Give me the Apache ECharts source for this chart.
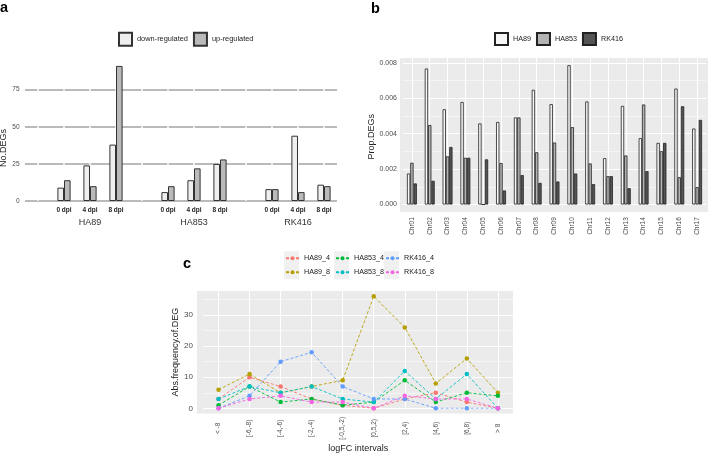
<!DOCTYPE html>
<html>
<head>
<meta charset="utf-8">
<script src="https://cdn.jsdelivr.net/npm/echarts@6/dist/echarts.min.js"></script>
<style>
  html, body { margin: 0; padding: 0; background: #fff; }
  #chart { width: 708px; height: 454px; }
</style>
</head>
<body>
<div id="chart"></div>
<script>
// panel a: number of DEGs
const strains = ['HA89', 'HA853', 'RK416'];
const dpiSlots = ['', '0 dpi', '4 dpi', '8 dpi'];
const downRegulated = [9, 24, 38, 6, 14, 25, 8, 44, 11];
const upRegulated = [14, 10, 91, 10, 22, 28, 8, 6, 10];
const ticksA = [0, 25, 50, 75];

// panel b: proportion of DEGs per chromosome
const chromosomes = ['Chr01', 'Chr02', 'Chr03', 'Chr04', 'Chr05', 'Chr06', 'Chr07', 'Chr08', 'Chr09',
    'Chr10', 'Chr11', 'Chr12', 'Chr13', 'Chr14', 'Chr15', 'Chr16', 'Chr17'];
const propHA89 = [0.00175, 0.00768, 0.00538, 0.00579, 0.00458, 0.00466, 0.00492, 0.00648, 0.00567,
    0.00787, 0.00582, 0.00262, 0.00557, 0.00375, 0.00348, 0.00655, 0.00429];
const propHA853 = [0.00236, 0.00449, 0.00272, 0.00264, 0, 0.00234, 0.00492, 0.00295, 0.0035,
    0.00437, 0.00232, 0.0016, 0.00277, 0.00565, 0.00301, 0.00154, 0.00098];
const propRK416 = [0.00119, 0.00134, 0.00325, 0.00264, 0.00255, 0.00079, 0.00166, 0.00122, 0.0013,
    0.00175, 0.00115, 0.0016, 0.00092, 0.00188, 0.00348, 0.00555, 0.00478];

// panel c: logFC interval frequencies
const logfcIntervals = ['< -8', '[-6,-8)', '[-4,-6)', '[-2,-4)', '[-0,5,-2)', '[0,5,2)', '[2,4)', '[4,6)', '[6,8)', '> 8'];
const HA89_4 = [3, 10, 7, 3, 1, 0, 3, 5, 2, 0];
const HA89_8 = [6, 11, 5, 7, 9, 36, 26, 8, 16, 5];
const HA853_4 = [1, 7, 2, 3, 1, 2, 9, 2, 5, 4];
const HA853_8 = [3, 7, 5, 7, 3, 2, 12, 3, 11, 0];
const RK416_4 = [0, 4, 15, 18, 7, 3, 3, 0, 0, 0];
const RK416_8 = [0, 3, 4, 2, 2, 0, 4, 3, 3, 0];

const lineSeries = [
    {name: 'HA89_4', data: HA89_4, color: '#F8766D'},
    {name: 'HA89_8', data: HA89_8, color: '#B79F00'},
    {name: 'HA853_4', data: HA853_4, color: '#00BA38'},
    {name: 'HA853_8', data: HA853_8, color: '#00BFC4'},
    {name: 'RK416_4', data: RK416_4, color: '#619CFF'},
    {name: 'RK416_8', data: RK416_8, color: '#F564E3'}
];

const categoriesA = strains.flatMap(s => dpiSlots.map(d => s + '|' + d));
function withEmptySlots(values) {
    const out = [];
    strains.forEach((s, i) => {
        out.push('-');
        out.push(...values.slice(i * 3, i * 3 + 3));
    });
    return out;
}

const chart = echarts.init(document.getElementById('chart'));

const tickText = {fontSize: 7, color: '#4d4d4d'};
const nameText = {fontSize: 9, color: '#222'};
const noLine = {show: false};

// helper axes draw the vertical gridlines at category centres
function centreLines(gridIndex, count, color, width, z) {
    return {
        type: 'value', gridIndex: gridIndex, min: 0, max: count * 2, interval: 1,
        axisLine: noLine, axisTick: noLine, axisLabel: noLine, silent: true, z: z,
        splitLine: {show: true, lineStyle: {color: ['rgba(0,0,0,0)', color], width: width}}
    };
}

const legendKeys = [];
for (let col = 0; col < 3; col++) {
    for (let row = 0; row < 2; row++) {
        legendKeys.push({
            type: 'rect', z: -10, silent: true,
            shape: {x: 284 + col * 50, y: 251.3 + row * 14, width: 15, height: 14},
            style: {fill: '#f0f0f0'}
        });
    }
}

const option = {
    animation: false,
    textStyle: {fontFamily: 'Liberation Sans, Arial, sans-serif'},
    graphic: [
        {type: 'rect', z: -10, silent: true, shape: {x: 400, y: 58, width: 308, height: 154}, style: {fill: '#ebebeb'}},
        {type: 'rect', z: -10, silent: true, shape: {x: 197, y: 291, width: 316, height: 122.5}, style: {fill: '#ebebeb'}},
        ...legendKeys,
        {type: 'text', left: 0, top: 0, style: {text: 'a', font: 'bold 14.5px Liberation Sans', fill: '#000'}},
        {type: 'text', left: 371, top: 1, style: {text: 'b', font: 'bold 14.5px Liberation Sans', fill: '#000'}},
        {type: 'text', left: 183, top: 256, style: {text: 'c', font: 'bold 14.5px Liberation Sans', fill: '#000'}}
    ],
    legend: [
        {data: ['down-regulated', 'up-regulated'], left: 118, top: 31.7, padding: 0, icon: 'rect',
            itemWidth: 13, itemHeight: 13, itemGap: 5, textStyle: {fontSize: 7.4, color: '#222'}},
        {data: ['HA89', 'HA853', 'RK416'], left: 494, top: 32, padding: 0, icon: 'rect',
            itemWidth: 13, itemHeight: 12, itemGap: 5, textStyle: {fontSize: 7.2, color: '#222'}},
        {data: ['HA89_4', 'HA89_8'], left: 285, top: 251.3, orient: 'vertical', padding: 0,
            itemWidth: 13, itemHeight: 5, itemGap: 0, textStyle: {fontSize: 7.2, lineHeight: 14, color: '#222'}},
        {data: ['HA853_4', 'HA853_8'], left: 335, top: 251.3, orient: 'vertical', padding: 0,
            itemWidth: 13, itemHeight: 5, itemGap: 0, textStyle: {fontSize: 7.2, lineHeight: 14, color: '#222'}},
        {data: ['RK416_4', 'RK416_8'], left: 385, top: 251.3, orient: 'vertical', padding: 0,
            itemWidth: 13, itemHeight: 5, itemGap: 0, textStyle: {fontSize: 7.2, lineHeight: 14, color: '#222'}}
    ],
    grid: [
        {left: 25, top: 60, width: 312, height: 141, outerBoundsMode: 'none'},
        {left: 403, top: 45.2, width: 303, height: 159.3, outerBoundsMode: 'none'},
        {left: 203, top: 283.9, width: 310.4, height: 124.4, outerBoundsMode: 'none'}
    ],
    xAxis: [
        {
            type: 'category', gridIndex: 0, data: categoriesA,
            axisLine: noLine, axisTick: noLine,
            axisLabel: {
                interval: 0, margin: 5, fontSize: 6.5, fontWeight: 'bold', color: '#222', lineHeight: 8,
                formatter: v => {
                    const [s, d] = v.split('|');
                    return d === '4 dpi' ? d + '\n{strain|' + s + '}' : d;
                },
                rich: {strain: {fontSize: 9, fontWeight: 'normal', color: '#333', lineHeight: 17}}
            }
        },
        centreLines(0, categoriesA.length, '#ffffff', 1.5, 1),
        {
            type: 'category', gridIndex: 1, data: chromosomes,
            axisLine: noLine, axisTick: noLine,
            axisLabel: {interval: 0, rotate: 90, align: 'center', verticalAlign: 'middle', margin: 21.5,
                fontSize: 6.5, color: '#4d4d4d'}
        },
        centreLines(1, chromosomes.length, '#ffffff', 1, 0),
        {
            type: 'category', gridIndex: 2, data: logfcIntervals,
            axisLine: noLine, axisTick: noLine,
            axisLabel: {interval: 0, rotate: 90, align: 'center', verticalAlign: 'middle', margin: 20,
                fontSize: 6.5, color: '#4d4d4d'},
            name: 'logFC intervals', nameLocation: 'middle', nameGap: 34, nameTextStyle: nameText
        },
        centreLines(2, logfcIntervals.length, '#ffffff', 1, 0)
    ],
    yAxis: [
        {
            type: 'value', gridIndex: 0, min: 0, max: 95, interval: 25,
            axisLine: noLine, axisTick: noLine,
            axisLabel: {margin: 5.5, fontSize: 6.5, color: '#4d4d4d', showMaxLabel: false},
            splitLine: {show: true, lineStyle: {color: ticksA.map(() => '#a3a3a3').concat(['rgba(0,0,0,0)']), width: 1.5}},
            name: 'No.DEGs', nameLocation: 'middle', nameRotate: 90, nameGap: 16,
            nameTextStyle: Object.assign({padding: [0, 35, 0, 0]}, nameText)
        },
        {
            type: 'value', gridIndex: 1, min: 0, max: 0.009, interval: 0.002,
            axisLine: noLine, axisTick: noLine,
            axisLabel: Object.assign({margin: 6, showMaxLabel: false, formatter: v => v.toFixed(3)}, tickText),
            splitLine: {show: true, lineStyle: {color: '#ffffff', width: 1}},
            minorTick: {show: false, splitNumber: 2},
            minorSplitLine: {show: true, lineStyle: {color: '#ffffff', width: 0.5}},
            name: 'Prop.DEGs', nameLocation: 'middle', nameRotate: 90, nameGap: 26,
            nameTextStyle: Object.assign({padding: [0, 24, 0, 0]}, nameText)
        },
        {
            type: 'value', gridIndex: 2, min: 0, max: 40, interval: 10,
            axisLine: noLine, axisTick: noLine,
            axisLabel: {margin: 10, fontSize: 8, color: '#4d4d4d', showMaxLabel: false},
            splitLine: {show: true, lineStyle: {color: '#ffffff', width: 1}},
            minorTick: {show: false, splitNumber: 2},
            minorSplitLine: {show: true, lineStyle: {color: '#ffffff', width: 0.5}},
            name: 'Abs.frequency.of.DEG', nameLocation: 'middle', nameRotate: 90, nameGap: 20,
            nameTextStyle: Object.assign({padding: [0, 12, 0, 0]}, nameText)
        }
    ],
    series: [
        {name: 'down-regulated', type: 'bar', xAxisIndex: 0, yAxisIndex: 0, data: withEmptySlots(downRegulated),
            barWidth: 6.6, barGap: '0%', itemStyle: {color: '#efefef', borderColor: '#333', borderWidth: 1}},
        {name: 'up-regulated', type: 'bar', xAxisIndex: 0, yAxisIndex: 0, data: withEmptySlots(upRegulated),
            barWidth: 6.6, barGap: '0%', itemStyle: {color: '#bababa', borderColor: '#333', borderWidth: 1}},
        {name: 'HA89', type: 'bar', xAxisIndex: 2, yAxisIndex: 1, data: propHA89,
            barWidth: 3.3, barGap: '0%', itemStyle: {color: '#f7f7f7', borderColor: '#222', borderWidth: 0.8}},
        {name: 'HA853', type: 'bar', xAxisIndex: 2, yAxisIndex: 1, data: propHA853,
            barWidth: 3.3, barGap: '0%', itemStyle: {color: '#b4b4b4', borderColor: '#222', borderWidth: 0.8}},
        {name: 'RK416', type: 'bar', xAxisIndex: 2, yAxisIndex: 1, data: propRK416,
            barWidth: 3.3, barGap: '0%', itemStyle: {color: '#555555', borderColor: '#222', borderWidth: 0.8}},
        ...lineSeries.map(s => ({
            name: s.name, type: 'line', xAxisIndex: 4, yAxisIndex: 2, data: s.data,
            symbol: 'circle', symbolSize: 4.5, showSymbol: true,
            itemStyle: {color: s.color},
            lineStyle: {color: s.color, width: 0.9, type: [3, 2]}
        }))
    ]
};

chart.setOption(option);
</script>
</body>
</html>
